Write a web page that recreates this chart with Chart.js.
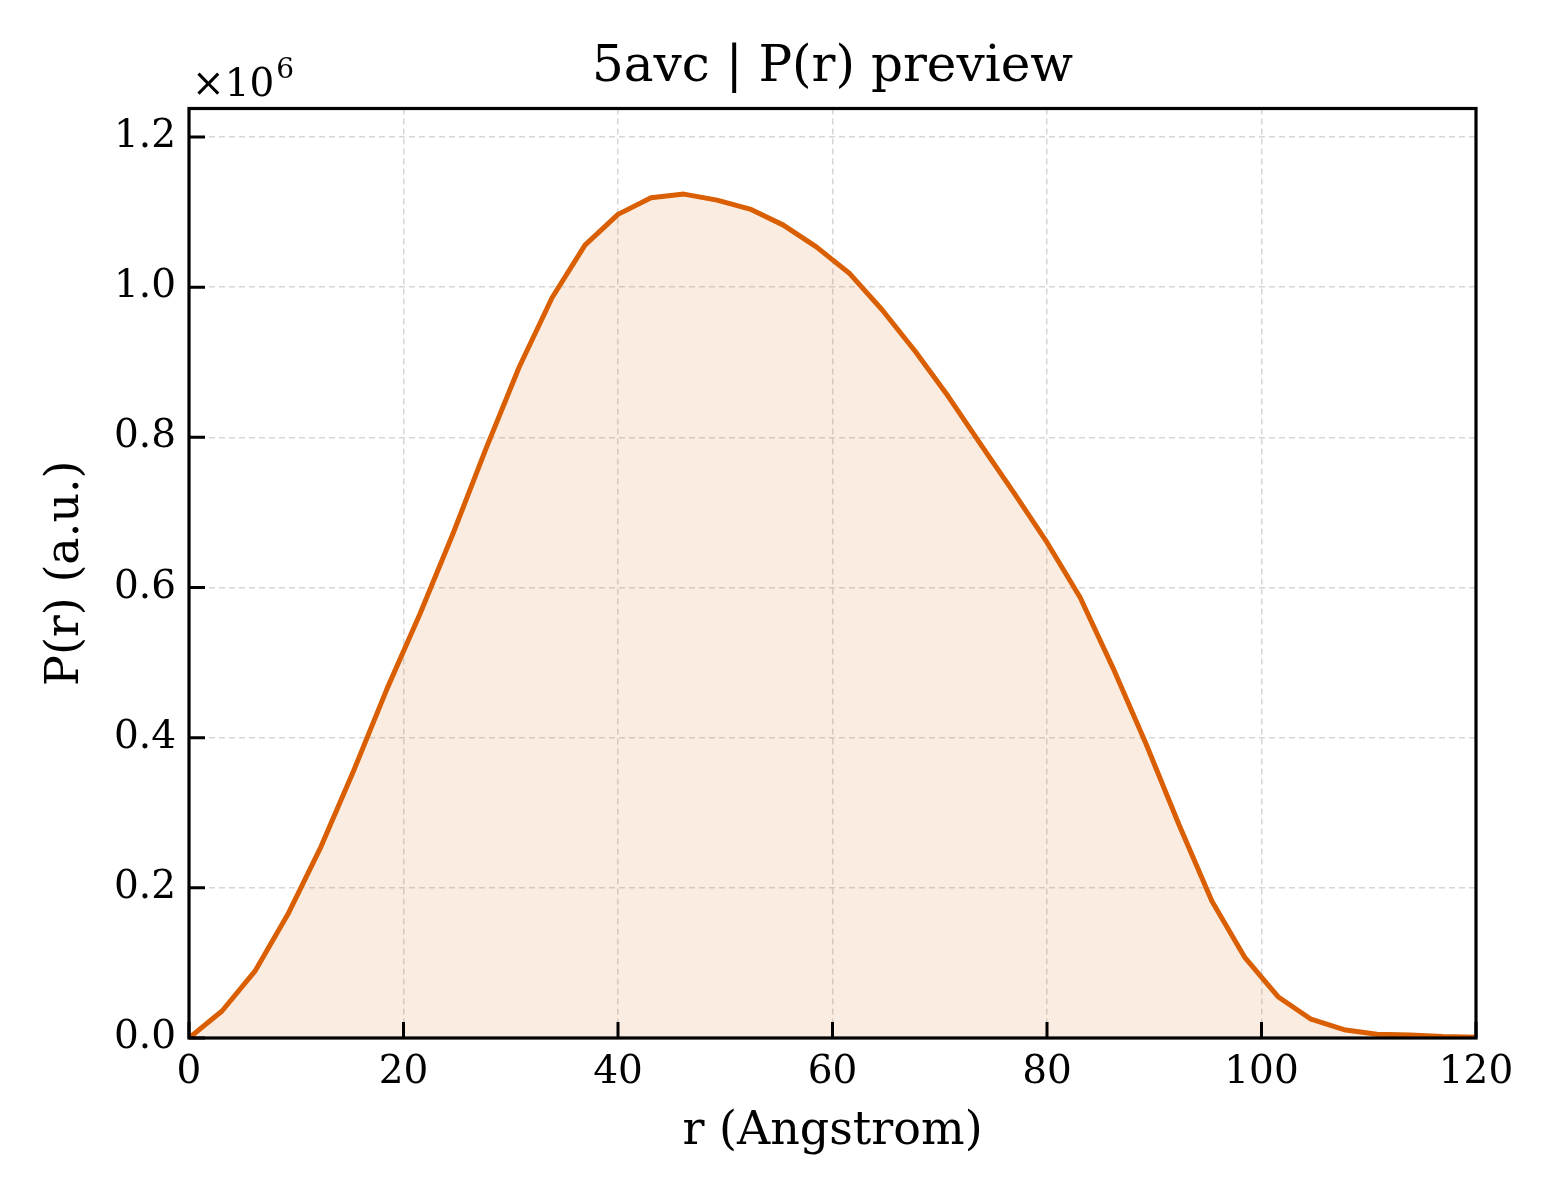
<!DOCTYPE html>
<html>
<head>
<meta charset="utf-8">
<script src="https://cdn.jsdelivr.net/npm/chart.js@4.4.1/dist/chart.umd.min.js"></script>
<style>
    html, body { margin: 0; padding: 0; background: #fff; }
    canvas { display: block; }
</style>
</head>
<body>
<canvas id="prChart" width="1560" height="1200"></canvas>
<script>
// r in Angstrom (40 samples from 0 to 120)
const rValues = [
    0, 3.08, 6.15, 9.23, 12.31, 15.38, 18.46, 21.54, 24.62, 27.69,
    30.77, 33.85, 36.92, 40.0, 43.08, 46.15, 49.23, 52.31, 55.38, 58.46,
    61.54, 64.62, 67.69, 70.77, 73.85, 76.92, 80.0, 83.08, 86.15, 89.23,
    92.31, 95.38, 98.46, 101.54, 104.62, 107.69, 110.77, 113.85, 116.92, 120.0
];

// P(r) in arbitrary units
const prValues = [
    0, 36000, 89000, 165000, 255000, 357000, 465000, 565000, 672000, 785000,
    893000, 986000, 1056000, 1097000, 1119000, 1124000, 1116000, 1104000, 1083000, 1054000,
    1019000, 970000, 915000, 855000, 790000, 726000, 660000, 587000, 493000, 392000,
    284000, 182000, 107000, 55000, 25000, 11000, 5000, 4000, 2000, 1000
];

const xTicks = [0, 20, 40, 60, 80, 100, 120];
const yTicks = [0, 200000, 400000, 600000, 800000, 1000000, 1200000];

const titleText = '5avc | P(r) preview';
const lineColor = '#d95f02';
const fontFamily = "'DejaVu Serif', 'Liberation Serif', serif";

const points = rValues.map((r, i) => ({ x: r, y: prValues[i] }));

// title over the axes, frame, inward ticks and the x10^6 offset text
const framePlugin = {
    id: 'frame',
    afterDraw(chart) {
        const ctx = chart.ctx;
        const area = chart.chartArea;
        const xs = chart.scales.x;
        const ys = chart.scales.y;
        ctx.save();
        ctx.strokeStyle = '#000';
        ctx.lineWidth = 3;
        ctx.beginPath();
        xTicks.forEach(v => {
            const px = xs.getPixelForValue(v);
            ctx.moveTo(px, area.bottom);
            ctx.lineTo(px, area.bottom - 16);
        });
        yTicks.forEach(v => {
            const py = ys.getPixelForValue(v);
            ctx.moveTo(area.left, py);
            ctx.lineTo(area.left + 16, py);
        });
        ctx.stroke();

        ctx.lineWidth = 3.2;
        ctx.strokeRect(area.left, area.top, area.right - area.left, area.bottom - area.top);

        ctx.fillStyle = '#000';
        ctx.textBaseline = 'middle';
        ctx.textAlign = 'center';
        ctx.font = '50px ' + fontFamily;
        ctx.fillText(titleText, (area.left + area.right) / 2, 68);

        ctx.textBaseline = 'alphabetic';
        ctx.textAlign = 'left';
        ctx.font = '39px ' + fontFamily;
        ctx.fillText('\u00d710', area.left + 3, area.top - 13);
        const w = ctx.measureText('\u00d710').width;
        ctx.font = '28px ' + fontFamily;
        ctx.fillText('6', area.left + 5 + w, area.top - 31);
        ctx.restore();
    }
};

const config = {
    type: 'line',
    data: {
        datasets: [{
            label: 'P(r)',
            data: points,
            borderColor: lineColor,
            backgroundColor: 'rgba(217, 95, 2, 0.12)',
            borderWidth: 5,
            borderJoinStyle: 'round',
            fill: 'origin',
            pointRadius: 0,
            tension: 0
        }]
    },
    options: {
        responsive: false,
        animation: false,
        devicePixelRatio: 1,
        layout: {
            padding: { left: 38, right: 84, top: 108.5, bottom: 40 }
        },
        plugins: {
            legend: { display: false },
            tooltip: { enabled: false },
            title: { display: false }
        },
        scales: {
            x: {
                type: 'linear',
                min: 0,
                max: 120,
                afterFit(scale) { scale.height = 122; },
                afterBuildTicks(scale) { scale.ticks = xTicks.map(v => ({ value: v })); },
                ticks: {
                    color: '#000',
                    padding: 11,
                    maxRotation: 0,
                    font: { family: fontFamily, size: 39 }
                },
                grid: {
                    color: '#d6d6d6',
                    lineWidth: 1.5,
                    drawTicks: false
                },
                border: { display: false, dash: [6, 4] },
                title: {
                    display: true,
                    text: 'r (Angstrom)',
                    color: '#000',
                    font: { family: fontFamily, size: 46 },
                    padding: { top: 0, bottom: 0 }
                }
            },
            y: {
                type: 'linear',
                min: 0,
                max: 1238000,
                afterFit(scale) { scale.width = 151; },
                afterBuildTicks(scale) { scale.ticks = yTicks.map(v => ({ value: v })); },
                ticks: {
                    color: '#000',
                    padding: 13,
                    font: { family: fontFamily, size: 39 },
                    callback: v => (v / 1e6).toFixed(1)
                },
                grid: {
                    color: '#d6d6d6',
                    lineWidth: 1.5,
                    drawTicks: false
                },
                border: { display: false, dash: [6, 4] },
                title: {
                    display: true,
                    text: 'P(r) (a.u.)',
                    color: '#000',
                    font: { family: fontFamily, size: 46 },
                    padding: { top: 0, bottom: 0 }
                }
            }
        }
    },
    plugins: [framePlugin]
};

const prChart = new Chart(document.getElementById('prChart'), config);
</script>
</body>
</html>
